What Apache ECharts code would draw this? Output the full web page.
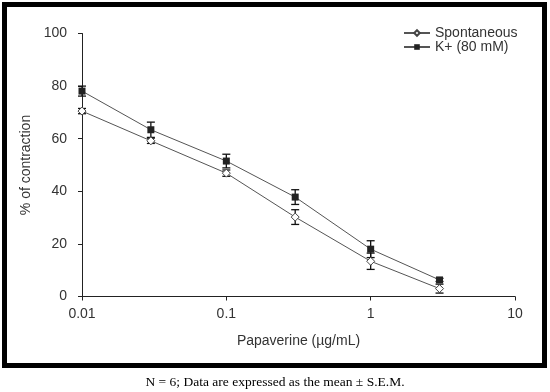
<!DOCTYPE html>
<html>
<head>
<meta charset="utf-8">
<script src="https://cdn.jsdelivr.net/npm/echarts@6/dist/echarts.min.js"></script>
<style>
html,body{margin:0;padding:0;background:#fff;}
#chart{width:550px;height:392px;}
</style>
</head>
<body>
<div id="chart"></div>
<script>
const xValues = [0.01, 0.03, 0.1, 0.3, 1, 3];
const spontMean = [70.5, 59.2, 46.9, 30.2, 13.4, 3.0];
const spontSem = [1.0, 1.0, 1.2, 2.8, 3.1, 1.7];
const kMean = [78.1, 63.4, 51.5, 37.8, 18.0, 6.3];
const kSem = [1.9, 2.9, 2.6, 2.8, 3.2, 0.6];
const xTickLabels = ['0.01', '0.1', '1', '10'];
const yTickValues = [0, 20, 40, 60, 80, 100];
const seriesNames = ['Spontaneous', 'K+ (80 mM)'];
const xTitle = 'Papaverine (µg/mL)';
const yTitle = '% of contraction';
const caption = 'N = 6; Data are expressed as the mean ± S.E.M.';

function pairs(means) { return xValues.map((x, i) => [x, means[i]]); }
function errs(means, sems) { return xValues.map((x, i) => [x, means[i] - sems[i], means[i] + sems[i]]); }

function errRender(params, api) {
  const x = api.value(0);
  const lo = api.coord([x, api.value(1)]);
  const hi = api.coord([x, api.value(2)]);
  const w = 4;
  const st = { stroke: '#111', lineWidth: 1.3 };
  return {
    type: 'group',
    children: [
      { type: 'line', shape: { x1: lo[0], y1: lo[1], x2: hi[0], y2: hi[1] }, style: st },
      { type: 'line', shape: { x1: hi[0] - w, y1: hi[1], x2: hi[0] + w, y2: hi[1] }, style: st },
      { type: 'line', shape: { x1: lo[0] - w, y1: lo[1], x2: lo[0] + w, y2: lo[1] }, style: st }
    ]
  };
}

const chart = echarts.init(document.getElementById('chart'), null, { renderer: 'canvas' });
const font = 'Liberation Sans, Arial, sans-serif';
chart.setOption({
  animation: false,
  backgroundColor: '#fff',
  grid: { left: 82, right: 35, top: 33.5, bottom: 95.5, containLabel: false },
  legend: {
    data: seriesNames,
    orient: 'vertical',
    left: 403,
    top: 26,
    itemWidth: 26,
    itemHeight: 7,
    itemGap: 0,
    padding: 0,
    textStyle: { fontFamily: font, fontSize: 14, color: '#333', lineHeight: 13 }
  },
  xAxis: {
    type: 'log',
    logBase: 10,
    min: 0.01,
    max: 10,
    name: xTitle,
    nameLocation: 'middle',
    nameGap: 38,
    nameTextStyle: { fontFamily: font, fontSize: 14, color: '#333' },
    axisLine: { lineStyle: { color: '#222', width: 1 } },
    axisTick: { show: true, length: 4, lineStyle: { color: '#222' } },
    splitLine: { show: false },
    minorTick: { show: false },
    axisLabel: {
      fontFamily: font, fontSize: 14, color: '#333', margin: 11,
      formatter: function (v) {
        const i = Math.round(Math.log10(v) + 2);
        return xTickLabels[i] !== undefined ? xTickLabels[i] : '';
      }
    }
  },
  yAxis: {
    type: 'value',
    min: yTickValues[0],
    max: yTickValues[yTickValues.length - 1],
    interval: yTickValues[1] - yTickValues[0],
    name: yTitle,
    nameLocation: 'middle',
    nameGap: 43,
    nameTextStyle: { fontFamily: font, fontSize: 14, color: '#333' },
    axisLine: { show: true, lineStyle: { color: '#222', width: 1 } },
    axisTick: { show: true, length: 4, lineStyle: { color: '#222' } },
    splitLine: { show: false },
    axisLabel: { fontFamily: font, fontSize: 14, color: '#333', margin: 15 }
  },
  series: [
    {
      name: seriesNames[0] + ' err', type: 'custom', renderItem: errRender,
      data: errs(spontMean, spontSem), z: 3, silent: true
    },
    {
      name: seriesNames[1] + ' err', type: 'custom', renderItem: errRender,
      data: errs(kMean, kSem), z: 3, silent: true
    },
    {
      name: seriesNames[0], type: 'line', data: pairs(spontMean),
      symbol: 'diamond', symbolSize: 8, showAllSymbol: true,
      lineStyle: { color: '#555', width: 1 },
      itemStyle: { color: '#fff', borderColor: '#444', borderWidth: 1 },
      z: 4
    },
    {
      name: seriesNames[1], type: 'line', data: pairs(kMean),
      symbol: 'rect', symbolSize: 7, showAllSymbol: true,
      lineStyle: { color: '#555', width: 1 },
      itemStyle: { color: '#222', borderColor: '#222', borderWidth: 0 },
      z: 4
    }
  ],
  graphic: [
    {
      type: 'rect', shape: { x: 4.5, y: 4.5, width: 540, height: 361 },
      style: { fill: null, stroke: '#000', lineWidth: 5 }, z: 100
    },
    {
      type: 'text', x: 275, y: 382,
      style: {
        text: caption, fontFamily: 'Liberation Serif, Times New Roman, serif', fontSize: 13.5,
        fill: '#000', align: 'center', verticalAlign: 'middle'
      }
    }
  ]
});
</script>
</body>
</html>
